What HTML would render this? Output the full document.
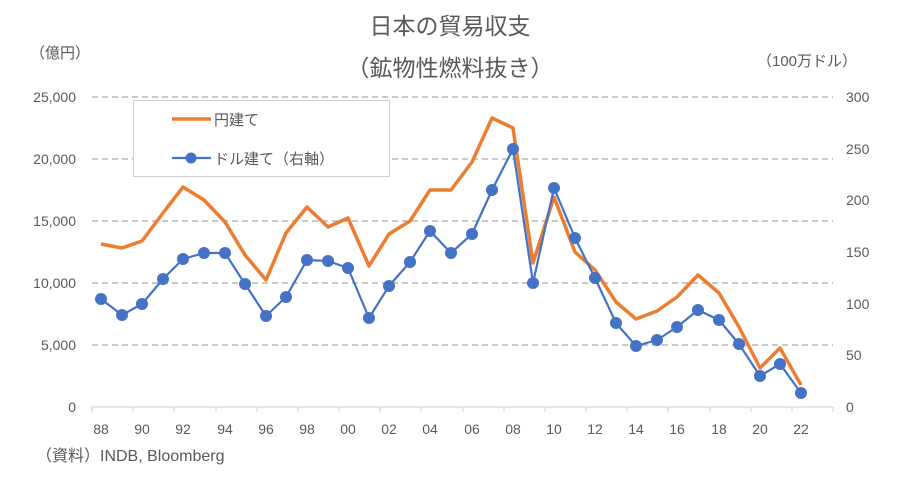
<!DOCTYPE html>
<html><head><meta charset="utf-8"><style>
html,body{margin:0;padding:0;background:#fff;}
svg text{font-family:"Liberation Sans","Noto Sans CJK JP",sans-serif;fill:#595959;}
</style></head><body>
<svg width="900" height="477" viewBox="0 0 900 477" xmlns="http://www.w3.org/2000/svg">
<rect width="900" height="477" fill="#fff"/>
<text x="450" y="34" font-size="23" text-anchor="middle">日本の貿易収支</text>
<text x="450" y="76" font-size="23" text-anchor="middle">（鉱物性燃料抜き）</text>
<text x="30" y="58" font-size="15">（億円）</text>
<text x="757" y="66" font-size="15">（100万ドル）</text>
<g stroke="#a6a6a6" stroke-width="1.3" stroke-dasharray="6,4">
<line x1="92" y1="97" x2="833" y2="97"/><line x1="92" y1="159" x2="833" y2="159"/>
<line x1="92" y1="221" x2="833" y2="221"/><line x1="92" y1="283" x2="833" y2="283"/>
<line x1="92" y1="345" x2="833" y2="345"/>
</g>
<line x1="92" y1="407" x2="833" y2="407" stroke="#d0d0d0" stroke-width="1"/>
<g stroke="#d0d0d0"><line x1="92" y1="407" x2="92" y2="412"/><line x1="133" y1="407" x2="133" y2="412"/><line x1="174" y1="407" x2="174" y2="412"/><line x1="216" y1="407" x2="216" y2="412"/><line x1="257" y1="407" x2="257" y2="412"/><line x1="298" y1="407" x2="298" y2="412"/><line x1="339" y1="407" x2="339" y2="412"/><line x1="380" y1="407" x2="380" y2="412"/><line x1="421" y1="407" x2="421" y2="412"/><line x1="463" y1="407" x2="463" y2="412"/><line x1="504" y1="407" x2="504" y2="412"/><line x1="545" y1="407" x2="545" y2="412"/><line x1="586" y1="407" x2="586" y2="412"/><line x1="627" y1="407" x2="627" y2="412"/><line x1="668" y1="407" x2="668" y2="412"/><line x1="710" y1="407" x2="710" y2="412"/><line x1="751" y1="407" x2="751" y2="412"/><line x1="792" y1="407" x2="792" y2="412"/><line x1="833" y1="407" x2="833" y2="412"/></g>
<g font-size="14" text-anchor="end">
<text x="76" y="102">25,000</text><text x="76" y="164">20,000</text><text x="76" y="226">15,000</text><text x="76" y="288">10,000</text><text x="76" y="350">5,000</text><text x="76" y="412">0</text>
</g>
<g font-size="14">
<text x="846" y="102">300</text><text x="846" y="154">250</text><text x="846" y="205">200</text><text x="846" y="257">150</text><text x="846" y="309">100</text><text x="846" y="360">50</text><text x="846" y="412">0</text>
</g>
<g font-size="14" text-anchor="middle">
<text x="101" y="434">88</text><text x="142" y="434">90</text><text x="183" y="434">92</text><text x="225" y="434">94</text><text x="266" y="434">96</text><text x="307" y="434">98</text><text x="348" y="434">00</text><text x="389" y="434">02</text><text x="430" y="434">04</text><text x="472" y="434">06</text><text x="513" y="434">08</text><text x="554" y="434">10</text><text x="595" y="434">12</text><text x="636" y="434">14</text><text x="677" y="434">16</text><text x="719" y="434">18</text><text x="760" y="434">20</text><text x="801" y="434">22</text>
</g>
<text x="36" y="461" font-size="16">（資料）INDB, Bloomberg</text>
<polyline fill="none" stroke="#ed7d31" stroke-width="3.5" stroke-linejoin="round" points="101,244 122,248 142,241 163,213 183,187 204,200 225,222 245,255 266,280 286,233 307,207 328,227 348,218 369,266 389,234 410,221 430,190 451,190 472,162 492,118 513,128 533,263 554,197 575,252 595,270 616,302 636,319 657,311 677,297 698,275 719,293 739,327 760,368 780,348 801,385"/>
<polyline fill="none" stroke="#4472c4" stroke-width="2.2" stroke-linejoin="round" points="101,299 122,315 142,304 163,279 183,259 204,253 225,253 245,284 266,316 286,297 307,260 328,261 348,268 369,318 389,286 410,262 430,231 451,253 472,234 492,190 513,149 533,283 554,188 575,238 595,278 616,323 636,346 657,340 677,327 698,310 719,320 739,344 760,376 780,364 801,393"/>
<g fill="#4472c4">
<circle cx="101" cy="299" r="6"/><circle cx="122" cy="315" r="6"/><circle cx="142" cy="304" r="6"/><circle cx="163" cy="279" r="6"/><circle cx="183" cy="259" r="6"/><circle cx="204" cy="253" r="6"/><circle cx="225" cy="253" r="6"/><circle cx="245" cy="284" r="6"/><circle cx="266" cy="316" r="6"/><circle cx="286" cy="297" r="6"/><circle cx="307" cy="260" r="6"/><circle cx="328" cy="261" r="6"/><circle cx="348" cy="268" r="6"/><circle cx="369" cy="318" r="6"/><circle cx="389" cy="286" r="6"/><circle cx="410" cy="262" r="6"/><circle cx="430" cy="231" r="6"/><circle cx="451" cy="253" r="6"/><circle cx="472" cy="234" r="6"/><circle cx="492" cy="190" r="6"/><circle cx="513" cy="149" r="6"/><circle cx="533" cy="283" r="6"/><circle cx="554" cy="188" r="6"/><circle cx="575" cy="238" r="6"/><circle cx="595" cy="278" r="6"/><circle cx="616" cy="323" r="6"/><circle cx="636" cy="346" r="6"/><circle cx="657" cy="340" r="6"/><circle cx="677" cy="327" r="6"/><circle cx="698" cy="310" r="6"/><circle cx="719" cy="320" r="6"/><circle cx="739" cy="344" r="6"/><circle cx="760" cy="376" r="6"/><circle cx="780" cy="364" r="6"/><circle cx="801" cy="393" r="6"/>
</g>
<rect x="133.5" y="100.5" width="256" height="76" fill="#fff" stroke="#d0d0d0" stroke-width="1"/>
<line x1="172" y1="119" x2="211" y2="119" stroke="#ed7d31" stroke-width="3.5"/>
<text x="214" y="125" font-size="15">円建て</text>
<line x1="172" y1="158" x2="211" y2="158" stroke="#4472c4" stroke-width="2.2"/>
<circle cx="191" cy="158" r="5.5" fill="#4472c4"/>
<text x="214" y="164" font-size="15">ドル建て（右軸）</text>
</svg>
</body></html>
